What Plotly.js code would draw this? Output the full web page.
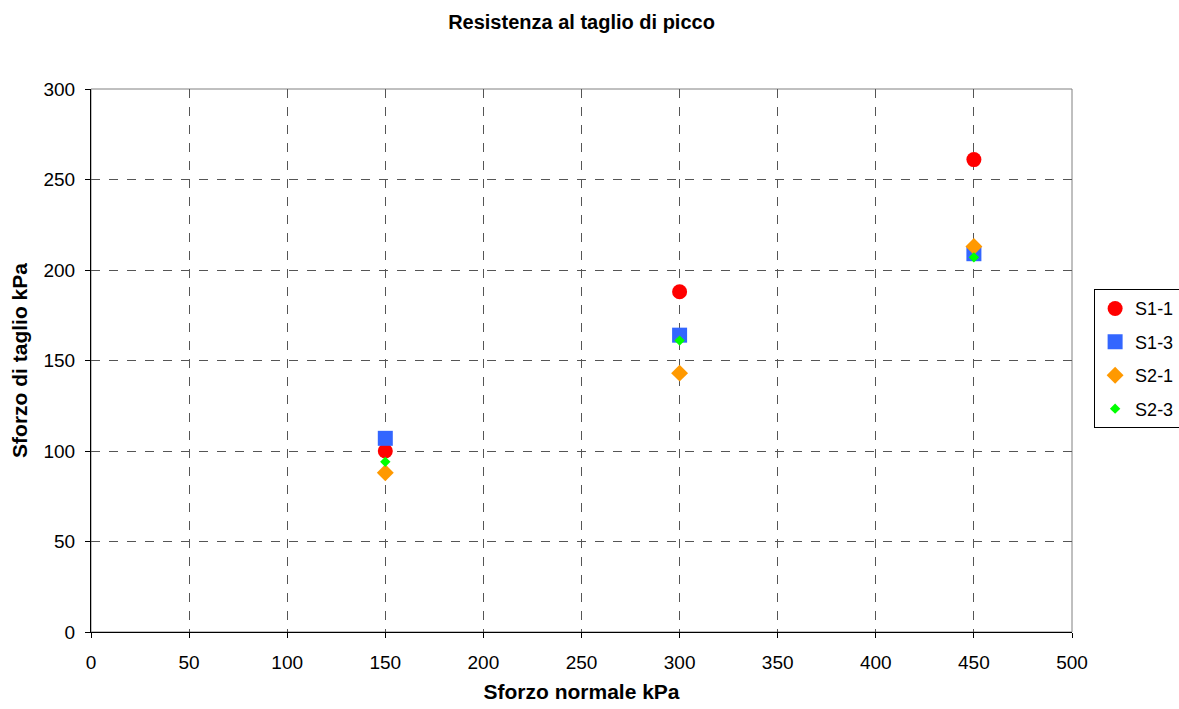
<!DOCTYPE html>
<html>
<head>
<meta charset="utf-8">
<script src="https://cdn.plot.ly/plotly-3.0.1.min.js"></script>
<style>html,body{margin:0;padding:0;background:#fff}#chart{width:1179px;height:709px}</style>
</head>
<body>
<div id="chart"></div>
<script>
const sforzoNormale = [150, 300, 450];
const s1_1 = [100, 188, 261];
const s1_3 = [107, 164, 209];
const s2_1 = [88, 143, 213];
const s2_3 = [94, 161, 207];
const seriesNames = ['S1-1', 'S1-3', 'S2-1', 'S2-3'];
const xTicks = [0, 50, 100, 150, 200, 250, 300, 350, 400, 450, 500];
const yTicks = [0, 50, 100, 150, 200, 250, 300];

const traces = [
  {x: sforzoNormale, y: s1_1, name: seriesNames[0], legendgroup: 'a', mode: 'markers', type: 'scatter',
   marker: {symbol: 'circle', size: 15, color: '#FF0000'}},
  {x: sforzoNormale, y: s1_3, name: seriesNames[1], legendgroup: 'b', mode: 'markers', type: 'scatter',
   marker: {symbol: 'square', size: 15, color: '#3366FF'}},
  {x: sforzoNormale, y: s2_1, name: seriesNames[2], legendgroup: 'c', mode: 'markers', type: 'scatter',
   marker: {symbol: 'diamond', size: 13, color: '#FF9900'}},
  {x: sforzoNormale, y: s2_3, name: seriesNames[3], legendgroup: 'd', mode: 'markers', type: 'scatter',
   marker: {symbol: 'diamond', size: 8, color: '#00FF00'}}
];

const layout = {
  width: 1179, height: 709,
  margin: {l: 91, r: 107, t: 89, b: 77},
  paper_bgcolor: '#fff', plot_bgcolor: '#fff',
  font: {family: 'Arial, Liberation Sans, sans-serif', color: '#000', size: 19},
  title: {text: '<b>Resistenza al taglio di picco</b>', font: {size: 20}, x: 0.5, xref: 'paper', y: 0.969, yref: 'container', yanchor: 'middle'},
  xaxis: {
    range: [0, 500], tickvals: xTicks, ticktext: xTicks.map(String),
    showgrid: true, gridcolor: '#555', griddash: 'dash', gridwidth: 1,
    showline: true, linecolor: '#000', linewidth: 1,
    ticks: 'outside', ticklen: 5, tickcolor: '#000', ticklabelstandoff: 8,
    zeroline: false, automargin: false,
    title: {text: '<b>Sforzo normale kPa</b>', font: {size: 21}, standoff: 12}
  },
  yaxis: {
    range: [0, 300], tickvals: yTicks, ticktext: yTicks.map(String),
    showgrid: true, gridcolor: '#555', griddash: 'dash', gridwidth: 1,
    showline: true, linecolor: '#000', linewidth: 1,
    ticks: 'outside', ticklen: 5, tickcolor: '#000', ticklabelstandoff: 6,
    zeroline: false, automargin: false,
    title: {text: '<b>Sforzo di taglio kPa</b>', font: {size: 21}, standoff: 10}
  },
  shapes: [{type: 'rect', xref: 'paper', yref: 'paper', x0: 0, x1: 1, y0: 0, y1: 1,
            line: {color: '#808080', width: 1}, layer: 'below'}],
  legend: {
    xref: 'container', yref: 'container',
    x: 0.928, xanchor: 'left', y: 0.494, yanchor: 'middle',
    bordercolor: '#000', borderwidth: 1, bgcolor: '#fff',
    font: {size: 18}, itemwidth: 30, tracegroupgap: 7
  },
  showlegend: true
};

Plotly.newPlot('chart', traces, layout, {displayModeBar: false, staticPlot: true});
</script>
</body>
</html>
